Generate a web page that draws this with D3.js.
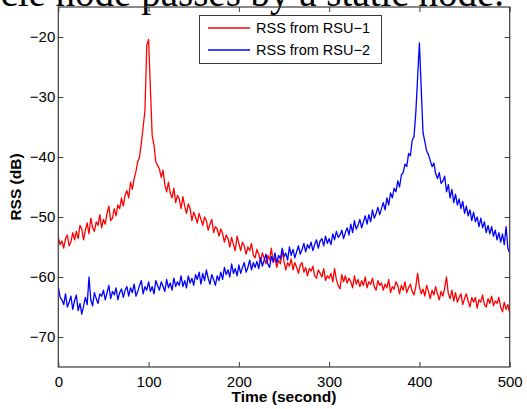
<!DOCTYPE html>
<html><head><meta charset="utf-8">
<script src="https://cdn.jsdelivr.net/npm/d3@7"></script>
<style>body{margin:0;background:#fff;overflow:hidden} svg{display:block}</style>
</head><body><svg id="c" width="527" height="409"></svg>
<script>
const xTicks = [0, 100, 200, 300, 400, 500];
const yTicks = [-70, -60, -50, -40, -30, -20];
const seriesNames = ["RSS from RSU\u22121", "RSS from RSU\u22122"];
const xLabel = "Time (second)";
const yLabel = "RSS (dB)";
const caption = "vehicle node passes by a static node.";
const sampleStep = 2; // seconds between samples

const rssRsu1 = [
-53.4,-54.6,-54.0,-55.2,-53.6,-53.0,-54.8,-54.2,-52.6,-53.8,
-52.4,-53.6,-51.4,-52.0,-53.8,-52.2,-51.0,-52.8,-50.2,-51.8,
-52.4,-50.8,-51.4,-49.6,-51.8,-50.4,-51.2,-49.4,-48.2,-50.6,
-50.2,-48.6,-49.8,-48.0,-48.6,-46.8,-48.2,-46.4,-45.6,-46.8,
-44.2,-45.4,-43.6,-42.4,-40.8,-40.0,-37.6,-35.0,-32.2,-21.4,
-20.4,-28.6,-36.4,-38.0,-40.8,-41.4,-42.0,-43.4,-42.2,-44.6,
-45.8,-44.2,-46.0,-46.8,-45.2,-47.6,-46.4,-47.0,-48.6,-46.6,
-48.2,-49.4,-47.8,-48.6,-50.6,-49.2,-50.0,-51.0,-49.4,-50.4,
-51.4,-50.0,-50.6,-52.2,-51.2,-50.4,-52.6,-51.6,-52.0,-53.2,
-52.0,-52.8,-54.2,-53.0,-53.6,-55.0,-53.4,-54.6,-55.6,-53.2,
-54.4,-55.6,-54.2,-54.8,-56.2,-55.0,-55.6,-54.4,-56.4,-56.8,
-55.4,-56.2,-57.4,-56.0,-56.8,-57.8,-56.4,-57.2,-55.2,-57.6,
-56.8,-58.4,-57.2,-57.8,-55.6,-57.4,-58.8,-57.6,-58.2,-57.0,
-58.8,-57.6,-58.4,-59.4,-58.0,-57.6,-59.2,-58.4,-59.8,-58.6,
-59.0,-58.2,-59.8,-60.2,-58.8,-59.4,-60.0,-58.6,-60.6,-59.8,
-60.2,-59.4,-60.8,-58.6,-60.4,-61.4,-62.0,-59.6,-60.8,-59.8,
-61.0,-60.2,-60.8,-61.8,-59.8,-61.2,-60.4,-61.6,-60.6,-61.4,
-60.0,-61.8,-60.8,-61.2,-60.2,-61.6,-62.2,-60.6,-61.4,-61.0,
-62.2,-61.2,-61.8,-60.4,-62.6,-61.6,-62.0,-60.8,-61.4,-62.8,
-61.4,-62.2,-60.8,-62.6,-61.8,-61.2,-62.4,-63.0,-61.6,-59.4,
-61.6,-62.8,-62.0,-63.2,-61.4,-62.4,-63.6,-62.2,-63.0,-61.6,
-62.8,-63.8,-62.4,-63.2,-61.8,-60.0,-62.8,-63.6,-62.2,-64.0,
-62.6,-64.2,-63.4,-62.8,-64.6,-63.6,-62.8,-64.0,-65.0,-63.4,
-64.2,-63.4,-65.2,-63.8,-64.2,-63.0,-64.6,-65.0,-63.6,-64.4,
-63.2,-64.8,-64.0,-64.4,-63.4,-65.0,-65.8,-64.2,-65.4,-64.6,
-66.0
];

const rssRsu2 = [
-61.6,-63.4,-63.8,-64.6,-62.8,-65.0,-64.2,-63.2,-65.4,-64.0,
-63.0,-65.6,-64.4,-66.2,-64.8,-63.4,-64.6,-60.0,-63.8,-64.8,
-62.6,-63.6,-64.4,-62.8,-63.2,-62.2,-63.8,-62.6,-61.4,-63.6,
-62.4,-63.0,-61.8,-63.8,-62.6,-62.0,-63.4,-62.2,-61.6,-63.2,
-61.8,-62.6,-61.2,-63.2,-62.4,-61.4,-60.6,-62.8,-61.6,-62.2,
-60.8,-62.4,-61.6,-62.8,-60.6,-61.4,-62.2,-60.8,-61.6,-62.4,
-60.4,-61.8,-61.0,-62.2,-60.2,-61.6,-60.8,-61.4,-59.8,-61.6,
-60.6,-61.8,-59.8,-61.0,-60.2,-61.4,-59.6,-60.4,-59.2,-61.2,
-59.4,-60.6,-58.8,-60.2,-61.2,-59.6,-60.4,-61.4,-59.8,-60.6,
-59.2,-60.4,-58.4,-59.6,-58.8,-60.0,-57.8,-59.4,-58.6,-59.8,
-58.0,-59.4,-58.4,-57.6,-59.2,-58.4,-57.2,-58.8,-57.6,-58.4,
-57.4,-58.6,-56.8,-58.2,-57.2,-56.2,-57.8,-58.4,-56.6,-57.4,
-56.0,-57.6,-56.4,-57.0,-55.2,-56.6,-56.0,-57.2,-55.0,-56.4,
-55.4,-56.8,-55.8,-54.8,-56.2,-55.4,-54.4,-55.8,-54.6,-55.2,
-54.2,-55.6,-54.6,-53.8,-55.2,-54.0,-53.6,-54.8,-53.2,-54.4,
-53.6,-54.6,-52.8,-53.8,-52.4,-53.4,-53.0,-52.2,-53.6,-52.6,
-51.8,-53.0,-51.2,-52.6,-50.6,-52.0,-51.4,-50.4,-51.8,-50.8,
-49.8,-51.2,-49.6,-50.8,-48.8,-50.2,-49.4,-48.4,-49.6,-48.6,
-47.6,-48.8,-46.8,-48.0,-46.0,-46.8,-45.2,-45.8,-44.0,-45.0,
-43.0,-42.6,-41.2,-41.6,-39.4,-39.8,-37.2,-36.6,-32.6,-26.8,
-21.0,-28.6,-36.0,-37.4,-39.0,-39.6,-40.6,-41.6,-41.0,-42.8,
-43.6,-42.6,-44.4,-44.0,-43.2,-45.8,-44.6,-46.8,-45.4,-47.6,
-46.2,-48.0,-47.0,-48.6,-47.4,-49.4,-48.2,-49.8,-48.8,-50.6,
-49.2,-50.8,-50.0,-51.6,-50.2,-51.8,-50.8,-52.6,-51.4,-52.8,
-51.6,-53.2,-52.2,-53.8,-52.6,-54.2,-52.8,-54.6,-51.6,-55.2,
-56.0
];

const colors = ["#ff0000", "#0000ff"];
const font = "'Liberation Sans', Arial, Helvetica, sans-serif";

const svg = d3.select("#c");
const L = 58.3, R = 509.7, T = 7, B = 367;
const x = d3.scaleLinear().domain([0, 500]).range([L, R]);
const y = d3.scaleLinear().domain([-75, -15]).range([B, T]);

// caption fragment at top (cut off by the picture's edge in the reference)
svg.append("text").attr("x", 504).attr("y", 6).attr("text-anchor", "end")
  .attr("font-family", "'Liberation Serif', 'Times New Roman', serif")
  .attr("font-size", 39).attr("fill", "#000").text(caption);

svg.append("defs").append("clipPath").attr("id", "clip")
  .append("rect").attr("x", L).attr("y", T).attr("width", R - L).attr("height", B - T);

const line = d3.line().x((d, i) => x(i * sampleStep)).y(d => y(d));
const lines = svg.append("g").attr("clip-path", "url(#clip)");
[rssRsu1, rssRsu2].forEach((s, k) => {
  lines.append("path").datum(s).attr("d", line).attr("fill", "none")
    .attr("stroke", colors[k]).attr("stroke-width", 1.3).attr("stroke-linejoin", "round");
});

const axisColor = "#3a3a3a";
function style(g) {
  g.select(".domain").remove();
  g.selectAll(".tick line").attr("stroke", axisColor).attr("stroke-width", 1);
  g.selectAll("text").attr("font-family", font).attr("font-size", 15).attr("fill", "#000");
}
svg.append("g").attr("transform", `translate(0,${B})`)
  .call(d3.axisBottom(x).tickValues(xTicks).tickSize(-5).tickPadding(9)).call(style);
svg.append("g").attr("transform", `translate(0,${T})`)
  .call(d3.axisTop(x).tickValues(xTicks).tickSize(-5).tickFormat("")).call(style);
svg.append("g").attr("transform", `translate(${L},0)`)
  .call(d3.axisLeft(y).tickValues(yTicks).tickSize(-5).tickPadding(3)).call(style);
svg.append("g").attr("transform", `translate(${R},0)`)
  .call(d3.axisRight(y).tickValues(yTicks).tickSize(-5).tickFormat("")).call(style);

svg.append("rect").attr("x", L).attr("y", T).attr("width", R - L).attr("height", B - T)
  .attr("fill", "none").attr("stroke", axisColor).attr("stroke-width", 1.2);

// axis titles
svg.append("text").attr("x", (L + R) / 2).attr("y", 402).attr("text-anchor", "middle")
  .attr("font-family", font).attr("font-weight", "bold").attr("font-size", 15.5).text(xLabel);
svg.append("text").attr("transform", `translate(21,${(T + B) / 2}) rotate(-90)`)
  .attr("text-anchor", "middle").attr("font-family", font).attr("font-weight", "bold")
  .attr("font-size", 15.5).text(yLabel);

// legend
const lg = svg.append("g");
lg.append("rect").attr("x", 199.5).attr("y", 15.5).attr("width", 182).attr("height", 48)
  .attr("fill", "#fff").attr("stroke", axisColor).attr("stroke-width", 1);
seriesNames.forEach((n, k) => {
  const yy = 28 + k * 22;
  lg.append("line").attr("x1", 208).attr("x2", 250).attr("y1", yy).attr("y2", yy)
    .attr("stroke", colors[k]).attr("stroke-width", 1.3);
  lg.append("text").attr("x", 256).attr("y", yy + 5).attr("font-family", font)
    .attr("font-size", 14.5).attr("fill", "#000").text(n);
});
</script></body></html>
